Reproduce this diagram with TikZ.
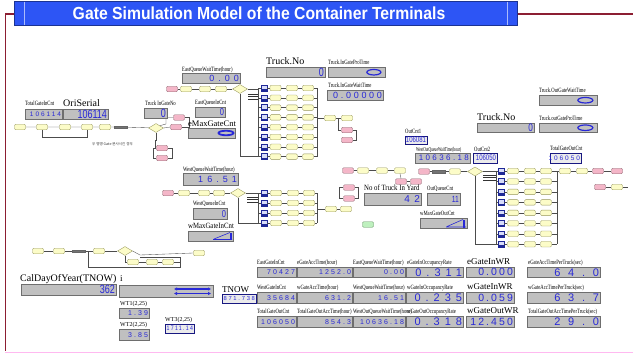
\documentclass[tikz,border=0pt]{standalone}
\usepackage{fontspec}
\usetikzlibrary{shapes.geometric,arrows.meta}
\setmainfont{Liberation Serif}
\newfontfamily\cnd[FakeStretch=0.72]{Liberation Serif}
\newfontfamily\cndn[FakeStretch=0.6]{Liberation Serif}
\newfontfamily\cndb[FakeStretch=0.85]{Liberation Serif}
\newfontfamily\vsp[LetterSpace=30]{Liberation Sans}
\newfontfamily\vsw[LetterSpace=45]{Liberation Sans}
\newfontfamily\vsx[LetterSpace=70]{Liberation Sans}
\newfontfamily\vsq[LetterSpace=20]{Liberation Sans}
\newfontfamily\vsn[FakeStretch=0.75]{Liberation Sans}
\newfontfamily\vspn[FakeStretch=0.8,LetterSpace=20]{Liberation Sans}
\newfontfamily\tsans[FakeStretch=0.9]{Liberation Sans}
\newfontfamily\krf{Noto Sans CJK KR}
\definecolor{titleblue}{RGB}{45,85,245}
\definecolor{frame}{RGB}{140,30,50}
\definecolor{pinkline}{RGB}{255,185,240}
\definecolor{boxf}{RGB}{192,192,192}
\definecolor{boxb}{RGB}{110,110,110}
\definecolor{valc}{RGB}{40,40,215}
\definecolor{mody}{RGB}{252,252,200}
\definecolor{modb}{RGB}{150,150,90}
\definecolor{modp}{RGB}{244,182,200}
\definecolor{modpb}{RGB}{140,100,110}
\definecolor{modg}{RGB}{190,240,190}
\definecolor{modgb}{RGB}{90,140,90}
\definecolor{icof}{RGB}{215,220,250}
\definecolor{icob}{RGB}{30,40,150}
\newcommand\fsz[1]{\fontsize{#1}{#1}\selectfont}
\newcommand\valbox[6]{%
  \node[vbx,anchor=north west,minimum width={#4-#2},minimum height={#5-#3}] (#1) at (#2,#3) {};
  \node[val] (#1v) at (#1.east) {#6};}
\newcommand\valboxb[6]{%
  \node[vbxb,anchor=north west,minimum width={#4-#2},minimum height={#5-#3}] (#1) at (#2,#3) {};
  \node[val] (#1v) at (#1.east) {#6};}
\newcommand\slab[4]{\node[lbl,font=\cnd\fsz{6.5}] (#1) at (#2,#3) {#4};}
\newcommand\blab[5]{\node[lbl,font=\fsz{#4}] (#1) at (#2,#3) {#5};}
\begin{document}
\begin{tikzpicture}[x=1pt,y=-1pt,
  mod/.style={draw=modb,fill=mody,rounded corners=1.2pt,minimum width=11pt,minimum height=5.5pt,inner sep=0pt,line width=0.35pt},
  pmod/.style={mod,fill=modp,draw=modpb},
  gmod/.style={mod,fill=modg,draw=modgb},
  kmod/.style={draw=black!60,fill=black!55,minimum width=13pt,minimum height=2.5pt,inner sep=0pt},
  dmod/.style={diamond,aspect=1.8,draw=modb,fill=mody,minimum width=15pt,minimum height=9pt,inner sep=0pt,line width=0.35pt},
  ico/.style={draw=icob,fill=icof,minimum width=6.5pt,minimum height=6pt,inner sep=0pt,line width=0.4pt,
     path picture={\fill[icob] (path picture bounding box.south west) rectangle ([yshift=1.8pt]path picture bounding box.south east);}},
  wire/.style={draw=black!70,line width=0.35pt},
  bund/.style={draw=black!80,line width=0.7pt},
  vbx/.style={draw=boxb,fill=boxf,inner sep=0pt,line width=0.45pt},
  vbxb/.style={draw=valc!60!black,fill=black!8,inner sep=0pt,line width=0.45pt},
  val/.style={text=valc,inner sep=1.3pt,anchor=east},
  lbl/.style={inner sep=0pt,anchor=base west},
  oval/.style={ellipse,draw=valc,line width=1.2pt,inner sep=0pt,anchor=east}
]
\path[use as bounding box] (0,0) rectangle (633,354);
% frame lines
\draw[frame,line width=1.5pt] (15,14) -- (5.5,14) -- (5.5,351);
\draw[frame,line width=1.5pt] (517,14) -- (633,14);
\draw[pinkline,line width=1pt] (5,352.5) -- (633,352.5);
% title
\node[fill=titleblue,draw=titleblue!60!black,minimum width=503pt,minimum height=24pt,anchor=north west,inner sep=0pt] (title) at (14,1) {};
\draw[white!60!titleblue,line width=0.8pt] (24,1.5)--(24,24.5) (507,1.5)--(507,24.5);
\node[text=white,font=\tsans\bfseries\fsz{17.5}] (titletext) at (259,13) {Gate Simulation Model of the Container Terminals};

% ---------- top-left chain ----------
\node[mod] (a1) at (20,127) {};
\node[mod] (a2) at (42,127) {};
\node[mod] (a3) at (65,127) {};
\node[mod] (a4) at (87,127) {};
\node[mod] (a5) at (105,127) {};
\node[kmod] (a6) at (121,127) {};
\node[dmod] (a7) at (156,128) {};
\node[pmod] (a8) at (179,117.5) {};
\node[pmod] (a9) at (176,127) {};
\node[pmod] (a10) at (162,148) {};
\node[pmod] (a11) at (162,158) {};
\draw[wire] (a1)--(a2)--(a3)--(a4)--(a5)--(a6)--(a7);
\draw[wire] (a7.east)--(a9.west);
\draw[wire] (a7.north east)--(166,124)|-(a8.west);
\draw[wire] (a8.east)--++(4,0)|-(a9.east);
\draw[wire] (a2.south)--++(0,7)-|(a4.south);
\draw[wire] (a7.south)--(156,140)-|(155,148)--(a10.west);
\draw[wire] (a10.east)--++(4,0)|-(a11.east);
\draw[wire] (a10.west)--++(-3,0)|-(a11.west);
\node[font=\krf\fsz{3.6},text=black!80,anchor=west,inner sep=0pt] (krnote) at (92,144) {우 명명 Gate 분사시킨 경우};

% ---------- east chain & grid ----------
\node[pmod] (e1) at (172,89) {};
\node[mod] (e2) at (186,89) {};
\node[mod] (e3) at (205,89) {};
\node[mod] (e4) at (221,89) {};
\node[dmod] (ed) at (240,89) {};
\draw[wire] (e1)--(e2)--(e3)--(e4)--(ed);
\draw[wire] (ed.east)--(258,89);
\draw[wire] (ed.south)--(240,156.6)--(258,156.6);
\draw[bund] (248,94)--(259,94) (248,96.5)--(259,96.5) (248,99)--(259,99);
\draw[wire] (258,88)--(258,156.6);
\foreach \k in {0,...,7}{
  \pgfmathsetmacro\yy{88+9.8*\k}
  \node[ico] (ei\k) at (264,\yy) {};
  \node[mod] (ea\k) at (275.5,\yy) {};
  \node[mod] (eb\k) at (292,\yy) {};
  \node[mod] (ec\k) at (308,\yy) {};
  \draw[wire] (258,\yy)--(ei\k);
  \draw[wire] (ei\k)--(ea\k)--(eb\k)--(ec\k)--(317,\yy);
}
\draw[wire] (317,88)--(317,156.6);
\node[mod] (ej1) at (330,118) {};
\node[mod] (ej2) at (347,118) {};
\node[pmod] (ep1) at (347,130) {};
\node[pmod] (ep2) at (347,140) {};
\draw[wire] (317,118)--(ej1)--(ej2);
\draw[wire] (ej1.east)--++(2,0)|-(ep1.west);
\draw[wire] (ep1.east)--++(3,0)|-(ep2.east);

% ---------- west chain & grid ----------
\node[pmod] (w1) at (168,193) {};
\node[mod] (w2) at (184,193) {};
\node[mod] (w3) at (204,193) {};
\node[mod] (w4) at (219,193) {};
\node[dmod] (wd) at (238,193) {};
\draw[wire] (w1)--(w2)--(w3)--(w4)--(wd);
\draw[wire] (wd.east)--(258,193);
\draw[wire] (wd.south)--(238,223)--(258,223);
\draw[bund] (247,197)--(258,197) (247,199.5)--(258,199.5) (247,202)--(258,202);
\draw[wire] (258,193)--(258,223);
\foreach \k in {0,...,3}{
  \pgfmathsetmacro\yy{193+10*\k}
  \node[ico] (wi\k) at (264,\yy) {};
  \node[mod] (wa\k) at (276,\yy) {};
  \node[mod] (wb\k) at (293,\yy) {};
  \node[mod] (wc\k) at (309,\yy) {};
  \draw[wire] (258,\yy)--(wi\k);
  \draw[wire] (wi\k)--(wa\k)--(wb\k)--(wc\k)--(317,\yy);
}
\draw[wire] (317,193)--(317,223);
\node[mod] (wj1) at (331,209) {};
\node[mod] (wj2) at (346,209) {};
\node[pmod] (wp1) at (349,187.5) {};
\node[pmod] (wp2) at (349,198.5) {};
\draw[wire] (317,209)--(wj1)--(wj2);
\draw[wire] (wp1.west)--++(-4,0)|-(wp2.west);
\draw[wire] (wp2.east)--++(3,0)--++(0,-11)--(wp1.east);

% ---------- middle chain ----------
\node[pmod] (m1) at (348,170.5) {};
\node[mod] (m2) at (363,170.5) {};
\node[mod] (m3) at (382,170.5) {};
\node[mod] (m4) at (400,170.5) {};
\node[pmod] (mp1) at (401,181.5) {};
\node[pmod] (mp2) at (416,181.5) {};
\node[pmod] (m5) at (424,171.5) {};
\node[kmod] (m6) at (439,171.5) {};
\node[mod] (m7) at (455,171.5) {};
\node[dmod] (md) at (475,171.5) {};
\draw[wire] (m1)--(m2)--(m3)--(m4);
\draw[wire] (m4.south)--(mp1.north);
\draw[wire] (mp1)--(mp2);
\draw[wire] (m5)--(m6)--(m7)--(md);
\draw[wire] (md.east)--(496,171.5);
\draw[wire] (md.south)--(475,244.2)--(496,244.2);
\draw[bund] (483,175)--(496,175) (483,177.5)--(496,177.5) (483,180)--(496,180);
\draw[wire] (496,171)--(496,244.2);
\foreach \k in {0,...,7}{
  \pgfmathsetmacro\yy{171+10.46*\k}
  \node[ico] (ri\k) at (501,\yy) {};
  \node[mod] (ra\k) at (513,\yy) {};
  \node[mod] (rb\k) at (530,\yy) {};
  \node[mod] (rc\k) at (546,\yy) {};
  \draw[wire] (496,\yy)--(ri\k);
  \draw[wire] (ri\k)--(ra\k)--(rb\k)--(rc\k)--(557,\yy);
}
\draw[wire] (557,171)--(557,244.2);
\node[mod] (r1) at (565,171) {};
\node[mod] (r2) at (582,171) {};
\node[pmod] (r3) at (598,171) {};
\node[pmod] (r4) at (617,171) {};
\node[pmod] (r5) at (600,187) {};
\node[mod] (r6) at (617,187) {};
\coordinate (rend) at (628,187);
\draw[wire] (557,171)--(r1)--(r2)--(r3)--(r4);
\draw[wire] (r5)--(r6)--(rend);
\node[gmod] (gr) at (368,224.5) {};

% ---------- bottom-left chain ----------
\node[mod] (b1) at (38,251) {};
\node[mod] (b2) at (59,251) {};
\node[kmod] (b3) at (79,251) {};
\node[mod] (b4) at (99,251) {};
\node[dmod] (bd) at (125,251) {};
\node[mod] (b5) at (199,253) {};
\node[mod] (b6) at (133,262) {};
\node[mod] (b7) at (152,262) {};
\node[mod] (b8) at (168,262) {};
\draw[wire] (b1)--(b2)--(b3)--(b4)--(bd);
\draw[wire] (bd.east)--(140,255)--(b5.west);
\draw[wire] (bd.south)|-(b6.west);
\draw[wire] (b6)--(b7)--(b8);
\draw[wire] (b8.east)--(180,262)--(180,257)--(140,257);
\draw[wire] (88,251)--(88,267)--(180,267)--(180,262);

% ---------- value boxes, upper part ----------
\slab{tgicl}{25}{105}{TotalGateInCnt}
\valbox{tgic}{25}{109}{62}{119}{\vsp\fsz{6.5}106114}
\blab{orisl}{63}{106}{10}{OriSerial}
\valbox{oris}{63}{109}{108}{119}{\vsn\fsz{12}106114}
\slab{tignl}{145}{105}{Truck InGateNo}
\valbox{tign}{144}{108}{167}{118}{\vsn\fsz{12}0}

\slab{eqwtl}{182}{71}{EastQueueWaitTime(hour)}
\valbox{eqwt}{182}{73}{240}{83}{\vsw\fsz{9}0.00}
\slab{eqicl}{195}{104}{EastQueueInCnt}
\valbox{eqic}{195}{107}{225}{117}{\vsn\fsz{10}0}
\blab{emgcl}{188}{126}{8.5}{eMaxGateCnt}
\valbox{emgc}{188}{128}{235}{138}{}
\node[ellipse,draw=valc,line width=1.8pt,minimum width=15pt,minimum height=4.5pt,inner sep=0pt] (emgcic) at (226,133) {};

\blab{tno1l}{266}{64}{10}{Truck.No}
\valbox{tno1}{266}{67}{325}{77}{\vsn\fsz{12}0}
\slab{tigpl}{328}{64}{Truck.InGateProTime}
\valbox{tigp}{328}{67}{385}{77}{}
\node[oval,minimum width=14pt,minimum height=5.5pt] (tigpic) at ([xshift=-4pt]tigp.east) {};
\slab{tigwl}{328}{87}{Truck.InGateWaitTime}
\valbox{tigw}{327}{90}{383}{100}{\vsp\fsz{9}0.00000}

\slab{wqwtl}{183}{171}{WestQueueWaitTime(hour)}
\valbox{wqwt}{183}{173}{238}{185}{\vsw\fsz{9}16.51}
\slab{wqicl}{193}{205}{WestQueueInCnt}
\valbox{wqic}{193}{208}{227}{219}{\vsn\fsz{10}0}
\blab{wmgil}{188}{228.5}{8}{\cndb wMaxGateInCnt}
\valbox{wmgi}{188}{231}{233}{241}{}
\draw[valc,line width=0.6pt] (214,239)--(230,232.5) (213,239.5)--(232,239.5);
\fill[valc] (229.5,232.5) rectangle (232,240);

\slab{togwl}{539}{92}{Truck.OutGateWaitTime}
\valbox{togw}{539}{95}{597}{105}{}
\node[oval,minimum width=15pt,minimum height=5.5pt] (togwic) at ([xshift=-4pt]togw.east) {};
\blab{tno2l}{477}{120}{10}{Truck.No}
\valbox{tno2}{477}{123}{534}{132}{\vsn\fsz{11}0}
\slab{togpl}{539}{120}{Truck.outGateProTime}
\valbox{togp}{539}{123}{597}{132}{}
\node[oval,minimum width=15pt,minimum height=5.5pt] (togpic) at ([xshift=-4pt]togp.east) {};

\slab{oc1l}{405}{133}{OutCnt1}
\valboxb{oc1}{405}{136}{427}{144}{\vsn\fsz{8}106081}
\node[lbl,font=\cndn\fsz{6}] (woqwl) at (416,151) {WestOutQueueWaitTime(hour)};
\valbox{woqw}{415}{153}{470}{163}{\vsp\fsz{8}10636.18}
\slab{oc2l}{474}{151}{OutCnt2}
\valboxb{oc2}{473}{153}{497}{163}{\vsn\fsz{8}106050}
\slab{tgocl}{550}{150}{TotalGateOutCnt}
\valboxb{tgoc}{550}{153}{581}{163}{\vsp\fsz{6.5}106050}

\blab{ntyl}{364}{190.5}{8}{\cndb No of Truck In Yard}
\valbox{nty}{364}{193}{421}{205}{\vsw\fsz{10}42}
\slab{oqcl}{427}{190.5}{OutQueueCnt}
\valbox{oqc}{427}{193}{460}{205}{\vsn\fsz{9}11}
\slab{wmgol}{420}{215.5}{wMaxGateOutCnt}
\valbox{wmgo}{420}{218}{467}{228}{}
\draw[valc,line width=0.6pt] (447,226.5)--(463,219.5) (446,227)--(466,227);
\fill[valc] (462.5,219.5) rectangle (465,227.5);

% ---------- bottom-left boxes ----------
\blab{cdoyl}{20}{281}{10}{CalDayOfYear(TNOW)}
\valbox{cdoy}{21}{284}{116}{295}{\vsn\fsz{12}362}
\blab{il}{120}{281}{9}{i}
\valbox{ibox}{119}{285}{213}{297}{}
\draw[valc,line width=1.3pt,{Latex[length=3pt,width=3.5pt]}-{Latex[length=3pt,width=3.5pt]}] (174,289)--(211,289);
\draw[valc,line width=1.3pt,{Latex[length=3pt,width=3.5pt]}-{Latex[length=3pt,width=3.5pt]}] (174,293.5)--(211,293.5);
\blab{tnowl}{222}{292}{9}{TNOW}
\valboxb{tnow}{222}{294}{256}{303}{\vsp\fsz{5.8}871.738}
\node[lbl,font=\fsz{6}] (wt1l) at (120,305.5) {WT1(2,25)};
\valbox{wt1}{119}{308}{149}{318}{\vsp\fsz{7}1.39}
\node[lbl,font=\fsz{6}] (wt2l) at (120,326.5) {WT2(2,25)};
\valbox{wt2}{119}{329}{149}{340}{\vsp\fsz{7}3.85}
\node[lbl,font=\fsz{6}] (wt3l) at (165,321.5) {WT3(2,25)};
\valboxb{wt3}{165}{324}{194}{333}{\vspn\fsz{6.5}1711.14}

% ---------- bottom table ----------
\slab{t11l}{257}{264}{EastGateInCnt}
\valbox{t11}{257}{267}{296}{277}{\vsp\fsz{7}70427}
\slab{t12l}{297}{264}{eGateAccTime(hour)}
\valbox{t12}{297}{267}{352}{277}{\vsp\fsz{7}1252.0}
\slab{t13l}{353}{264}{EastQueueWaitTime(hour)}
\valbox{t13}{353}{267}{405}{277}{\vsp\fsz{7}0.00}
\slab{t14l}{407}{264}{eGateInOccupancyRate}
\valbox{t14}{406}{267}{463}{277}{\vsw\fsz{11}0.311}
\blab{t15l}{467}{264}{9}{eGateInWR}
\valbox{t15}{466}{267}{514}{277}{\vsq\fsz{10.5}0.000}
\slab{t16l}{528}{264}{eGateAccTimePerTruck(sec)}
\valbox{t16}{527}{267}{600}{277}{\vsx\fsz{11}64.0}

\slab{t21l}{257}{289}{WestGateInCnt}
\valbox{t21}{257}{292}{296}{303}{\vsp\fsz{7}35684}
\slab{t22l}{297}{289}{wGateAccTime(hour)}
\valbox{t22}{297}{292}{352}{303}{\vsp\fsz{7}631.2}
\slab{t23l}{353}{289}{WestQueueWaitTime(hour)}
\valbox{t23}{353}{292}{405}{303}{\vsp\fsz{7}16.51}
\slab{t24l}{407}{289}{wGateInOccupancyRate}
\valbox{t24}{406}{292}{463}{303}{\vsw\fsz{11}0.235}
\blab{t25l}{467}{289}{9}{wGateInWR}
\valbox{t25}{466}{292}{514}{303}{\vsq\fsz{10.5}0.059}
\slab{t26l}{528}{289}{wGateAccTimePerTruck(sec)}
\valbox{t26}{527}{292}{600}{303}{\vsx\fsz{11}63.7}

\slab{t31l}{257}{313}{TotalGateOutCnt}
\valbox{t31}{257}{316}{296}{327}{\vsp\fsz{7}106050}
\slab{t32l}{297}{313}{TotalGateOutAccTime(hour)}
\valbox{t32}{297}{316}{352}{327}{\vsp\fsz{7}854.3}
\slab{t33l}{353}{313}{WestOutQueueWaitTime(hour)}
\valbox{t33}{353}{316}{405}{327}{\vsp\fsz{7}10636.18}
\slab{t34l}{407}{313}{wGateOutOccupancyRate}
\valbox{t34}{406}{316}{463}{327}{\vsw\fsz{11}0.318}
\blab{t35l}{467}{313}{9}{wGateOutWR}
\valbox{t35}{466}{316}{514}{327}{\vsq\fsz{10.5}12.450}
\slab{t36l}{528}{313}{TotalGateOutAccTimePerTruck(sec)}
\valbox{t36}{527}{316}{600}{327}{\vsx\fsz{11}29.0}
\end{tikzpicture}
\end{document}
